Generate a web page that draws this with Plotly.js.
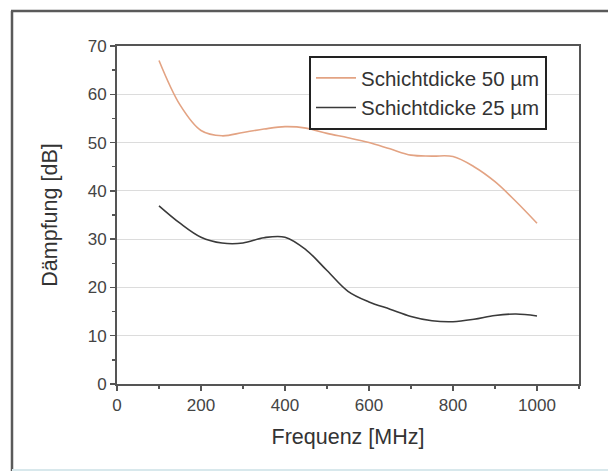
<!DOCTYPE html>
<html>
<head>
<meta charset="utf-8">
<script src="https://cdn.plot.ly/plotly-3.0.1.min.js"></script>
<style>
html,body{margin:0;padding:0;background:#fff;}
#chart{width:608px;height:471px;}
</style>
</head>
<body>
<div id="chart"></div>
<script>
// Data
const freq = [100,150,200,250,300,350,400,450,500,550,600,650,700,750,800,850,900,950,1000];
const damp50 = [67.0,57.8,52.5,51.4,52.1,52.8,53.3,53.0,51.9,51.0,50.0,48.7,47.4,47.2,47.1,45.0,41.9,37.8,33.3];
const damp25 = [36.9,33.3,30.4,29.2,29.2,30.3,30.4,27.8,23.5,19.2,17.0,15.5,14.0,13.1,12.9,13.4,14.2,14.5,14.1];
const seriesNames = ['Schichtdicke 50 \u00b5m','Schichtdicke 25 \u00b5m'];
const xTitle = 'Frequenz [MHz]';
const yTitle = 'D\u00e4mpfung [dB]';

const font = 'Liberation Sans, Arial, Helvetica, sans-serif';

const traces = [
  {x: freq, y: damp50, name: seriesNames[0], type: 'scatter', mode: 'lines',
   line: {color: '#e3a383', width: 1.6, shape: 'spline', smoothing: 1}},
  {x: freq, y: damp25, name: seriesNames[1], type: 'scatter', mode: 'lines',
   line: {color: '#3a3a3a', width: 1.6, shape: 'spline', smoothing: 1}}
];

const L = 117, R = 29, T = 46, B = 87, W = 608, H = 471;
const pw = W - L - R, ph = H - T - B;
const px = v => (v - L) / pw;
const py = v => (H - B - v) / ph;

const layout = {
  width: W, height: H,
  margin: {l: L, r: R, t: T, b: B, pad: 0},
  paper_bgcolor: '#fff', plot_bgcolor: '#fff',
  font: {family: font, color: '#333'},
  showlegend: true,
  legend: {
    x: px(309), y: py(56), xanchor: 'left', yanchor: 'top',
    bgcolor: '#fff', bordercolor: '#222', borderwidth: 2,
    font: {family: font, size: 20.5, color: '#333'},
    itemwidth: 40, tracegroupgap: 0
  },
  xaxis: {
    range: [0, 1100], dtick: 200, tick0: 0,
    showgrid: false, zeroline: false,
    showline: true, linecolor: '#555', linewidth: 2, mirror: true,
    ticks: 'outside', ticklen: 5, tickwidth: 1.5, tickcolor: '#555',
    minor: {dtick: 100, ticks: 'outside', ticklen: 3, tickcolor: '#555', showgrid: false},
    tickfont: {family: font, size: 17, color: '#444'},
    title: {text: xTitle, font: {family: font, size: 21.5, color: '#333'}, standoff: 15}
  },
  xaxis2: {
    overlaying: 'x', side: 'top', range: [0, 1100], dtick: 200, tick0: 0,
    showgrid: false, zeroline: false, showline: false, showticklabels: false,
    ticks: 'inside', ticklen: 5, tickwidth: 1.5, tickcolor: '#555',
    minor: {dtick: 100, ticks: 'inside', ticklen: 3, tickcolor: '#555', showgrid: false}
  },
  yaxis: {
    range: [0, 70], dtick: 10, tick0: 0,
    showgrid: true, gridcolor: '#dcdcdc', gridwidth: 1.2,
    zeroline: false,
    showline: true, linecolor: '#555', linewidth: 2, mirror: true,
    ticks: 'outside', ticklen: 5, tickwidth: 1.5, tickcolor: '#555',
    minor: {dtick: 5, ticks: 'outside', ticklen: 3, tickcolor: '#555', showgrid: false},
    tickfont: {family: font, size: 17, color: '#444'},
    title: {text: yTitle, font: {family: font, size: 21.5, color: '#333'}, standoff: 24}
  },
  shapes: [
    {type: 'line', xref: 'paper', yref: 'paper', x0: px(12), x1: px(12), y0: py(11), y1: py(471), line: {color: '#5a5a5a', width: 2.5}},
    {type: 'line', xref: 'paper', yref: 'paper', x0: px(11), x1: px(608), y0: py(11), y1: py(11), line: {color: '#5a5a5a', width: 2.5}},
    {type: 'line', xref: 'paper', yref: 'paper', x0: px(12), x1: px(608), y0: py(470), y1: py(470), line: {color: '#d8e8ec', width: 2}}
  ]
};

Plotly.newPlot('chart', traces, layout, {displayModeBar: false, staticPlot: true});
</script>
</body>
</html>
